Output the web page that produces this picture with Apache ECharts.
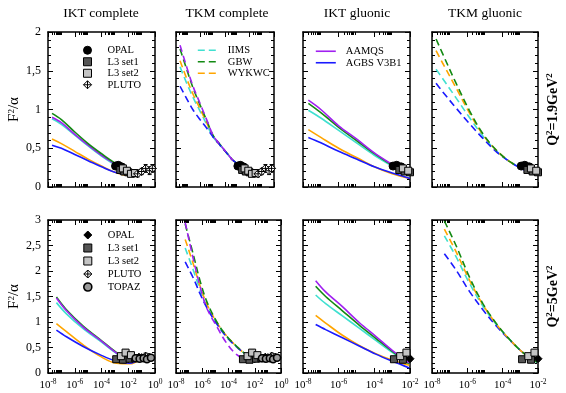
<!DOCTYPE html>
<html><head><meta charset="utf-8">
<script src="https://cdn.jsdelivr.net/npm/echarts@6/dist/echarts.min.js"></script>
<style>html,body{margin:0;padding:0;background:#fff}#c{width:566px;height:393px}</style>
</head><body><div id="c"></div>
<script>
// ---------- tick labels ----------
const xMajor = [-8, -6, -4, -2, 0];          // log10(x) of labelled ticks
const xMinorFactors = [2, 3, 4, 5, 6, 7, 8, 9];
const panelTitles = ['IKT complete', 'TKM complete', 'IKT gluonic', 'TKM gluonic'];
const rowLabels = ['1.9', '5'];

// ---------- model curves (x given as log10 x) ----------
// Q^2 = 1.9, IKT complete
const ikc19_x     = [-7.7, -7, -6, -5, -4, -3, -2, -1.3];
const ikc19_GBW   = [0.95, 0.87, 0.71, 0.56, 0.43, 0.31, 0.22, 0.20];
const ikc19_AAMQS = [0.90, 0.83, 0.68, 0.54, 0.41, 0.30, 0.21, 0.19];
const ikc19_IIMS  = [0.88, 0.81, 0.67, 0.53, 0.40, 0.29, 0.21, 0.19];
const ikc19_WYKWC = [0.62, 0.56, 0.46, 0.36, 0.27, 0.19, 0.15, 0.15];
const ikc19_AGBS  = [0.54, 0.50, 0.42, 0.34, 0.26, 0.19, 0.16, 0.16];
// Q^2 = 1.9, TKM complete
const tkc19_x     = [-7.67, -7.13, -6.59, -6.04, -5.5, -4.95, -4.41, -3.86, -3.32, -2.5, -1.7, -1, -0.2];
const tkc19_AAMQS = [1.83, 1.55, 1.29, 1.08, 0.87, 0.66, 0.55, 0.44, 0.34, 0.26, 0.21, 0.20, 0.21];
const tkc19_GBW   = [1.78, 1.52, 1.27, 1.06, 0.86, 0.66, 0.55, 0.44, 0.34, 0.26, 0.22, 0.21, 0.22];
const tkc19_WYKWC = [1.63, 1.40, 1.19, 1.01, 0.83, 0.65, 0.54, 0.44, 0.34, 0.26, 0.21, 0.20, 0.21];
const tkc19_IIMS  = [1.55, 1.34, 1.15, 0.98, 0.81, 0.64, 0.54, 0.44, 0.34, 0.26, 0.21, 0.20, 0.21];
const tkc19_AGBS  = [1.30, 1.14, 0.99, 0.87, 0.76, 0.64, 0.54, 0.44, 0.34, 0.26, 0.20, 0.19, 0.20];
// Q^2 = 1.9, IKT gluonic
const ikg19_x     = [-7.7, -7, -6, -5, -4, -3, -2];
const ikg19_AAMQS = [1.12, 1.00, 0.79, 0.62, 0.44, 0.29, 0.15];
const ikg19_GBW   = [1.08, 0.96, 0.77, 0.60, 0.43, 0.28, 0.15];
const ikg19_IIMS  = [0.99, 0.89, 0.73, 0.57, 0.41, 0.27, 0.14];
const ikg19_WYKWC = [0.74, 0.64, 0.50, 0.38, 0.26, 0.17, 0.11];
const ikg19_AGBS  = [0.64, 0.57, 0.46, 0.36, 0.26, 0.18, 0.11];
// Q^2 = 1.9, TKM gluonic
const tkg19_x     = [-7.77, -7.4, -6.64, -5.89, -5.13, -4.38, -3.62, -2.87, -2.02];
const tkg19_GBW   = [1.91, 1.72, 1.34, 0.99, 0.69, 0.48, 0.33, 0.24, 0.18];
const tkg19_WYKWC = [1.76, 1.60, 1.28, 0.96, 0.68, 0.48, 0.33, 0.24, 0.17];
const tkg19_IIMS  = [1.52, 1.40, 1.15, 0.90, 0.66, 0.47, 0.33, 0.24, 0.17];
const tkg19_AGBS  = [1.34, 1.23, 1.02, 0.82, 0.63, 0.46, 0.33, 0.23, 0.16];
// Q^2 = 5, IKT complete
const ikc5_x     = [-7.37, -6.62, -5.37, -4.12, -2.87, -1.87, -1.12];
const ikc5_GBW   = [1.49, 1.24, 0.92, 0.66, 0.40, 0.24, 0.27];
const ikc5_AAMQS = [1.47, 1.22, 0.90, 0.65, 0.39, 0.23, 0.26];
const ikc5_IIMS  = [1.38, 1.16, 0.87, 0.63, 0.38, 0.23, 0.26];
const ikc5_WYKWC = [0.97, 0.81, 0.55, 0.33, 0.19, 0.18, 0.27];
const ikc5_AGBS  = [0.84, 0.71, 0.52, 0.36, 0.23, 0.19, 0.28];
// Q^2 = 5, TKM complete
const tkc5_x     = [-7.3, -6.66, -6.16, -5.65, -4.89, -4.13, -3.37, -2.61, -1.6, -0.08];
const tkc5_AAMQS = [2.95, 2.21, 1.69, 1.27, 0.91, 0.58, 0.36, 0.27, 0.26, 0.30];
const tkc5_GBW   = [2.92, 2.30, 1.80, 1.40, 1.00, 0.72, 0.52, 0.36, 0.29, 0.32];
const tkc5_WYKWC = [2.62, 2.12, 1.70, 1.35, 0.99, 0.72, 0.52, 0.36, 0.28, 0.31];
const tkc5_IIMS  = [2.45, 2.00, 1.63, 1.31, 0.97, 0.71, 0.52, 0.36, 0.28, 0.31];
const tkc5_AGBS  = [2.18, 1.85, 1.55, 1.28, 0.96, 0.70, 0.51, 0.36, 0.28, 0.31];
// Q^2 = 5, IKT gluonic
const ikg5_x     = [-7.29, -6.73, -5.79, -4.85, -3.92, -2.98, -2.04];
const ikg5_AAMQS = [1.81, 1.59, 1.30, 0.99, 0.72, 0.44, 0.20];
const ikg5_GBW   = [1.70, 1.50, 1.22, 0.94, 0.68, 0.42, 0.18];
const ikg5_IIMS  = [1.53, 1.36, 1.12, 0.88, 0.64, 0.40, 0.17];
const ikg5_WYKWC = [1.13, 0.98, 0.74, 0.54, 0.38, 0.25, 0.15];
const ikg5_AGBS  = [0.95, 0.85, 0.69, 0.53, 0.37, 0.23, 0.10];
// Q^2 = 5, TKM gluonic
const tkg5_x     = [-7.3, -6.64, -5.88, -5.12, -4.36, -3.61, -2.85, -2.0];
const tkg5_GBW   = [2.98, 2.50, 1.88, 1.36, 0.97, 0.66, 0.40, 0.20];
const tkg5_WYKWC = [2.82, 2.38, 1.82, 1.34, 0.96, 0.66, 0.40, 0.20];
const tkg5_IIMS  = [2.69, 2.28, 1.76, 1.31, 0.95, 0.66, 0.40, 0.20];
const tkg5_AGBS  = [2.34, 2.02, 1.60, 1.24, 0.92, 0.65, 0.40, 0.20];

// ---------- measurements [log10 x, F2/alpha, error] ----------
const opal19  = [[-2.95, 0.27, 0.03], [-2.75, 0.28, 0.03], [-2.5, 0.26, 0.03]];
const l3a19   = [[-2.6, 0.22, 0.03], [-2.3, 0.20, 0.03], [-2.0, 0.19, 0.03], [-1.7, 0.18, 0.03]];
const l3b19   = [[-2.4, 0.24, 0.03], [-2.1, 0.21, 0.03], [-1.8, 0.17, 0.02], [-1.5, 0.18, 0.03]];
const pluto19 = [[-1.3, 0.17, 0.04], [-1.0, 0.20, 0.04], [-0.7, 0.24, 0.05], [-0.4, 0.21, 0.05], [-0.2, 0.24, 0.05]];
const opal5   = [[-2.35, 0.30, 0.04], [-2.0, 0.28, 0.04], [-1.6, 0.30, 0.04], [-1.2, 0.31, 0.04]];
const l3a5    = [[-2.9, 0.27, 0.03], [-2.4, 0.26, 0.03], [-1.9, 0.28, 0.03], [-1.5, 0.29, 0.03]];
const l3b5    = [[-2.55, 0.33, 0.04], [-2.2, 0.40, 0.06], [-1.8, 0.35, 0.05]];
const pluto5  = [[-1.0, 0.30, 0.05], [-0.7, 0.33, 0.06], [-0.45, 0.31, 0.06]];
const topaz5  = [[-1.45, 0.29, 0.04], [-1.15, 0.28, 0.04], [-0.85, 0.29, 0.04], [-0.6, 0.27, 0.05], [-0.3, 0.30, 0.05]];

// ---------- styling ----------
const FONT = '"Liberation Serif","Times New Roman",Times,serif';
const COL = {'AAMQS': '#a020f0', 'AGBS V3B1': '#1a1aff', 'IIMS': '#40e0d0', 'GBW': '#138a13', 'WYKWC': '#ffa500'};
const DASH = [7, 4];
const PLUTO_PATH = 'path://M5,0L10,5L5,10L0,5Z M5,0L5,10 M0,5L10,5';
const SYM = {
  'OPAL19': {symbol: 'circle', size: 8, color: '#000', bw: 1},
  'OPAL5': {symbol: 'diamond', size: 8, color: '#000', bw: 1},
  'L3 set1': {symbol: 'rect', size: 7, color: '#555', bw: 1},
  'L3 set2': {symbol: 'rect', size: 7, color: '#c4c4c4', bw: 1},
  'PLUTO': {symbol: PLUTO_PATH, size: 8, color: '#fff', bw: 1},
  'TOPAZ': {symbol: 'circle', size: 7, color: '#9a9a9a', bw: 1.6}
};

const rows = [{top: 32, height: 155, ymax: 2}, {top: 220, height: 153, ymax: 3}];
const pts19 = [['OPAL', opal19, 'OPAL19'], ['L3 set1', l3a19, 'L3 set1'], ['L3 set2', l3b19, 'L3 set2'], ['PLUTO', pluto19, 'PLUTO']];
const pts5 = [['OPAL', opal5, 'OPAL5'], ['L3 set1', l3a5, 'L3 set1'], ['L3 set2', l3b5, 'L3 set2'], ['PLUTO', pluto5, 'PLUTO'], ['TOPAZ', topaz5, 'TOPAZ']];

const panels = [
  {row: 0, col: 0, left: 48, width: 107, xmax: 0, dashed: false, x: ikc19_x, pts: pts19,
   lines: [['IIMS', ikc19_IIMS], ['AAMQS', ikc19_AAMQS], ['GBW', ikc19_GBW], ['WYKWC', ikc19_WYKWC], ['AGBS V3B1', ikc19_AGBS]]},
  {row: 0, col: 1, left: 176, width: 98, xmax: 0, dashed: true, x: tkc19_x, pts: pts19,
   lines: [['IIMS', tkc19_IIMS], ['WYKWC', tkc19_WYKWC], ['GBW', tkc19_GBW], ['AGBS V3B1', tkc19_AGBS], ['AAMQS', tkc19_AAMQS]]},
  {row: 0, col: 2, left: 303, width: 107, xmax: -2, dashed: false, x: ikg19_x, pts: pts19,
   lines: [['IIMS', ikg19_IIMS], ['GBW', ikg19_GBW], ['AAMQS', ikg19_AAMQS], ['WYKWC', ikg19_WYKWC], ['AGBS V3B1', ikg19_AGBS]]},
  {row: 0, col: 3, left: 432, width: 106, xmax: -2, dashed: true, x: tkg19_x, pts: pts19,
   lines: [['IIMS', tkg19_IIMS], ['AGBS V3B1', tkg19_AGBS], ['WYKWC', tkg19_WYKWC], ['GBW', tkg19_GBW]]},
  {row: 1, col: 0, left: 48, width: 107, xmax: 0, dashed: false, x: ikc5_x, pts: pts5,
   lines: [['IIMS', ikc5_IIMS], ['GBW', ikc5_GBW], ['AAMQS', ikc5_AAMQS], ['WYKWC', ikc5_WYKWC], ['AGBS V3B1', ikc5_AGBS]]},
  {row: 1, col: 1, left: 176, width: 105, xmax: 0, dashed: true, x: tkc5_x, pts: pts5,
   lines: [['IIMS', tkc5_IIMS], ['WYKWC', tkc5_WYKWC], ['AGBS V3B1', tkc5_AGBS], ['GBW', tkc5_GBW], ['AAMQS', tkc5_AAMQS]]},
  {row: 1, col: 2, left: 303, width: 107, xmax: -2, dashed: false, x: ikg5_x, pts: pts5,
   lines: [['IIMS', ikg5_IIMS], ['GBW', ikg5_GBW], ['AAMQS', ikg5_AAMQS], ['WYKWC', ikg5_WYKWC], ['AGBS V3B1', ikg5_AGBS]]},
  {row: 1, col: 3, left: 432, width: 106, xmax: -2, dashed: true, x: tkg5_x, pts: pts5,
   lines: [['IIMS', tkg5_IIMS], ['AGBS V3B1', tkg5_AGBS], ['WYKWC', tkg5_WYKWC], ['GBW', tkg5_GBW]]}
];

const grids = [], xAxes = [], yAxes = [], series = [];
const black = {color: '#000', width: 1};
panels.forEach((p, i) => {
  const r = rows[p.row];
  grids.push({left: p.left, top: r.top, width: p.width, height: r.height});
  const majors = xMajor.filter(v => v <= p.xmax + 1e-9);
  const minors = [];
  majors.forEach(m => xMinorFactors.forEach(k => { const v = m + Math.log10(k); if (v < p.xmax) minors.push(v); }));
  const base = {type: 'value', gridIndex: i, min: -8, max: p.xmax, splitLine: {show: false}, minorTick: {show: false}};
  const line = {show: true, onZero: false, lineStyle: {color: '#000', width: 1.5}};
  ['bottom', 'top'].forEach(pos => {
    xAxes.push(Object.assign({}, base, {
      position: pos, axisLine: line,
      axisTick: {show: true, inside: true, length: 5, customValues: majors, lineStyle: black},
      axisLabel: {show: pos === 'bottom' && p.row === 1, customValues: majors, margin: 5,
        formatter: v => '{b|10}{s|' + v + '}',
        rich: {b: {fontFamily: FONT, fontSize: 11, color: '#000', lineHeight: 14},
               s: {fontFamily: FONT, fontSize: 7.5, color: '#000', lineHeight: 6, verticalAlign: 'top'}}}
    }));
    xAxes.push(Object.assign({}, base, {
      position: pos, axisLine: {show: false, onZero: false},
      axisTick: {show: true, inside: true, length: 3, customValues: minors, lineStyle: black},
      axisLabel: {show: false}
    }));
  });
  ['left', 'right'].forEach(pos => {
    const ya = {
      type: 'value', gridIndex: i, position: pos, min: 0, max: r.ymax, interval: 0.5,
      splitLine: {show: false},
      axisLine: line,
      axisTick: {show: true, inside: true, length: 5, lineStyle: black},
      minorTick: {show: true, splitNumber: 5, length: 3, lineStyle: black},
      axisLabel: {show: pos === 'left' && p.col === 0, margin: 7, color: '#000', fontFamily: FONT, fontSize: 12,
        formatter: v => String(v).replace('.', ',')}
    };
    if (pos === 'left' && p.col === 0) {
      Object.assign(ya, {name: 'F{s|2}/α', nameLocation: 'middle', nameRotate: 90, nameGap: 26,
        nameTextStyle: {fontFamily: FONT, fontSize: 15, color: '#000',
          rich: {s: {fontFamily: FONT, fontSize: 9, color: '#000', lineHeight: 7, verticalAlign: 'top'}}}});
    }
    if (pos === 'right' && p.col === 3) {
      Object.assign(ya, {name: '{b|Q}{s|2}{b|=' + rowLabels[p.row] + 'GeV}{s|2}', nameLocation: 'middle', nameRotate: 90, nameGap: 7,
        nameTextStyle: {rich: {
          b: {fontFamily: FONT, fontSize: 14, fontWeight: 'bold', color: '#000', lineHeight: 16},
          s: {fontFamily: FONT, fontSize: 9, fontWeight: 'bold', color: '#000', lineHeight: 8, verticalAlign: 'top'}}}});
    }
    yAxes.push(ya);
  });
  const xi = 4 * i, yi = 2 * i;
  p.lines.forEach(([name, ys]) => {
    series.push({
      type: 'line', name: name, xAxisIndex: xi, yAxisIndex: yi, smooth: 0.35, symbol: 'none', clip: true,
      data: p.x.map((xv, k) => [xv, ys[k]]),
      lineStyle: {color: COL[name], width: 1.6, type: p.dashed ? DASH : 'solid'},
      itemStyle: {color: COL[name]}, z: 2
    });
  });
  p.pts.forEach(([name, arr, key]) => {
    const s = SYM[key];
    const inRange = arr.filter(d => d[0] <= p.xmax + 0.06);
    series.push({
      type: 'custom', name: name, xAxisIndex: xi, yAxisIndex: yi, z: 3, silent: true,
      data: inRange,
      renderItem: (params, api) => {
        const x = api.value(0), y = api.value(1), e = api.value(2);
        const a = api.coord([x, y + e]), b = api.coord([x, y - e]);
        return {type: 'group', children: [
          {type: 'line', shape: {x1: a[0], y1: a[1], x2: b[0], y2: b[1]}, style: {stroke: '#000', lineWidth: 1}},
          {type: 'line', shape: {x1: a[0] - 2, y1: a[1], x2: a[0] + 2, y2: a[1]}, style: {stroke: '#000', lineWidth: 1}},
          {type: 'line', shape: {x1: b[0] - 2, y1: b[1], x2: b[0] + 2, y2: b[1]}, style: {stroke: '#000', lineWidth: 1}}
        ]};
      }
    });
    series.push({
      type: 'scatter', name: name, xAxisIndex: xi, yAxisIndex: yi, z: 4, clip: true,
      symbol: s.symbol, symbolSize: s.size,
      data: inRange.map(d => [d[0], d[1]]),
      itemStyle: {color: s.color, borderColor: '#000', borderWidth: s.bw, opacity: 1}
    });
  });
});

function symItem(name, key) {
  const s = SYM[key];
  return {name: name, icon: s.symbol, itemStyle: {color: s.color, borderColor: '#000', borderWidth: s.bw}};
}
function lineItem(name, dashed) {
  return {name: name, itemStyle: {color: 'rgba(0,0,0,0)', borderWidth: 0, opacity: 0},
          lineStyle: {color: COL[name], width: 1.6, type: dashed ? DASH : 'solid'}};
}
const legTxt = (lh, pad) => ({fontFamily: FONT, fontSize: 10.5, color: '#000', lineHeight: lh, padding: [0, 0, 0, pad]});
const legBase = {orient: 'vertical', padding: 0, itemGap: 0, selectedMode: false};
const legends = [
  Object.assign({}, legBase, {left: 83, top: 44.5, itemWidth: 8, itemHeight: 8, textStyle: legTxt(11.5, 11),
   data: [symItem('OPAL', 'OPAL19'), symItem('L3 set1', 'L3 set1'), symItem('L3 set2', 'L3 set2'), symItem('PLUTO', 'PLUTO')]}),
  Object.assign({}, legBase, {left: 197, top: 44.5, itemWidth: 20, itemHeight: 8, textStyle: legTxt(11.5, 5),
   data: [lineItem('IIMS', true), lineItem('GBW', true), lineItem('WYKWC', true)]}),
  Object.assign({}, legBase, {left: 315, top: 45.5, itemWidth: 20, itemHeight: 8, textStyle: legTxt(11.5, 5),
   data: [lineItem('AAMQS', false), lineItem('AGBS V3B1', false)]}),
  Object.assign({}, legBase, {left: 83, top: 228.5, itemWidth: 8, itemHeight: 8, textStyle: legTxt(13, 11),
   data: [symItem('OPAL', 'OPAL5'), symItem('L3 set1', 'L3 set1'), symItem('L3 set2', 'L3 set2'), symItem('PLUTO', 'PLUTO'), symItem('TOPAZ', 'TOPAZ')]})
];

const titleX = [101, 227, 357, 485];
const graphics = panelTitles.map((t, k) => ({
  type: 'text', x: titleX[k], y: 13,
  style: {text: t, fontFamily: FONT, fontSize: 13.5, fill: '#000', textAlign: 'center', textVerticalAlign: 'middle'}
}));

const chart = echarts.init(document.getElementById('c'), null, {renderer: 'canvas'});
chart.setOption({
  animation: false,
  backgroundColor: '#fff',
  grid: grids, xAxis: xAxes, yAxis: yAxes, series: series,
  legend: legends, graphic: graphics
});
</script></body></html>
